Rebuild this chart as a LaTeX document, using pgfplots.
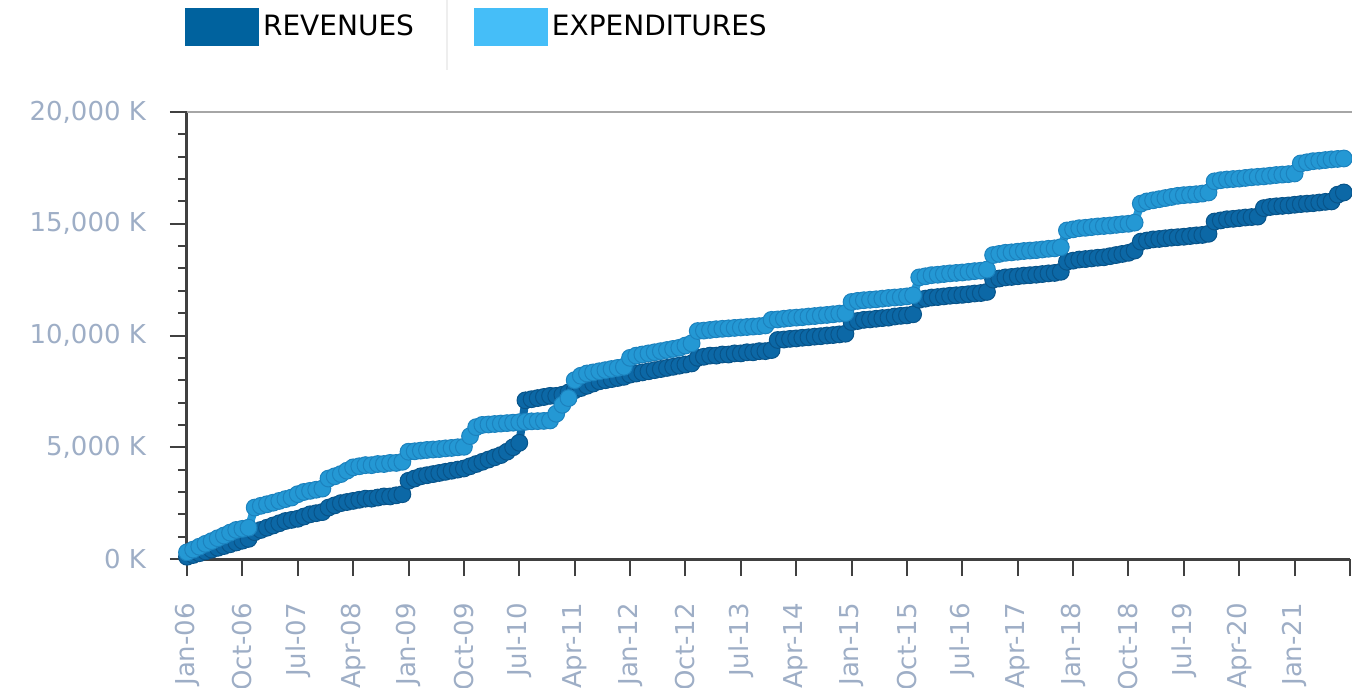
\documentclass[border=0pt]{standalone}
\usepackage{pgfplots}
\usepackage{pgfplotstable}
\pgfplotsset{compat=1.18}
\usepackage{fontspec}
\setmainfont{DejaVu Sans}
\definecolor{revcol}{RGB}{0,98,158}
\definecolor{expcol}{RGB}{69,190,248}
\definecolor{revline}{RGB}{12,104,166}
\definecolor{revedge}{RGB}{8,84,138}
\definecolor{expline}{RGB}{36,152,212}
\definecolor{expedge}{RGB}{28,130,190}
\definecolor{ticklab}{RGB}{158,174,198}
\definecolor{axdark}{RGB}{64,64,64}
\definecolor{topgray}{RGB}{166,166,166}
\definecolor{sepgray}{RGB}{238,238,238}
\pgfplotstableread{
m rev exp
0 100 300
1 180 420
2 260 550
3 340 680
4 420 800
5 500 930
6 580 1050
7 660 1180
8 740 1300
9 820 1350
10 900 1400
11 1200 2300
12 1300 2380
13 1400 2450
14 1500 2520
15 1600 2600
16 1700 2680
17 1750 2750
18 1800 2900
19 1900 3000
20 2000 3050
21 2050 3100
22 2100 3150
23 2300 3600
24 2400 3700
25 2500 3800
26 2550 3950
27 2600 4100
28 2650 4150
29 2700 4200
30 2700 4200
31 2750 4250
32 2800 4250
33 2800 4300
34 2850 4300
35 2900 4350
36 3500 4800
37 3600 4820
38 3700 4850
39 3750 4880
40 3800 4900
41 3850 4920
42 3900 4950
43 3950 4970
44 4000 5000
45 4050 5020
46 4150 5500
47 4250 5900
48 4350 6000
49 4450 6020
50 4550 6040
51 4650 6060
52 4800 6080
53 5000 6100
54 5200 6120
55 7100 6140
56 7150 6160
57 7200 6170
58 7250 6180
59 7300 6200
60 7300 6500
61 7350 6900
62 7450 7200
63 7550 8000
64 7650 8200
65 7750 8300
66 7850 8350
67 7950 8400
68 8000 8450
69 8050 8500
70 8100 8550
71 8150 8600
72 8250 9000
73 8300 9100
74 8350 9150
75 8400 9200
76 8450 9250
77 8500 9300
78 8550 9350
79 8600 9400
80 8650 9450
81 8700 9550
82 8750 9650
83 9000 10200
84 9050 10220
85 9100 10250
86 9100 10280
87 9150 10300
88 9150 10320
89 9200 10340
90 9200 10360
91 9250 10380
92 9250 10400
93 9300 10420
94 9300 10450
95 9350 10700
96 9800 10720
97 9820 10750
98 9850 10780
99 9870 10800
100 9900 10820
101 9920 10850
102 9950 10870
103 9970 10900
104 10000 10920
105 10020 10950
106 10050 10980
107 10080 11000
108 10600 11500
109 10650 11550
110 10700 11580
111 10720 11600
112 10750 11620
113 10780 11650
114 10800 11680
115 10850 11700
116 10880 11720
117 10900 11750
118 10950 11800
119 11600 12600
120 11650 12650
121 11700 12700
122 11720 12720
123 11750 12750
124 11780 12780
125 11800 12800
126 11820 12820
127 11850 12850
128 11880 12880
129 11900 12900
130 11950 12950
131 12500 13600
132 12550 13650
133 12600 13700
134 12620 13720
135 12650 13750
136 12680 13780
137 12700 13800
138 12720 13820
139 12750 13850
140 12780 13880
141 12800 13900
142 12850 13950
143 13300 14700
144 13350 14750
145 13400 14800
146 13420 14820
147 13450 14850
148 13480 14880
149 13500 14900
150 13550 14920
151 13600 14950
152 13650 14980
153 13700 15000
154 13800 15050
155 14200 15900
156 14250 16000
157 14300 16050
158 14320 16100
159 14350 16150
160 14380 16200
161 14400 16250
162 14420 16280
163 14450 16300
164 14480 16320
165 14500 16350
166 14550 16400
167 15100 16900
168 15150 16950
169 15200 16980
170 15220 17000
171 15250 17020
172 15280 17050
173 15300 17080
174 15320 17100
175 15700 17120
176 15750 17150
177 15780 17180
178 15800 17200
179 15820 17220
180 15850 17250
181 15880 17700
182 15900 17750
183 15920 17800
184 15950 17820
185 15980 17850
186 16000 17880
187 16300 17900
188 16400 17920
}\datatable
\begin{document}
\begin{tikzpicture}
\begin{axis}[
  at={(0,0)}, anchor=south west,
  scale only axis,
  width=581.5pt, height=223.5pt,
  xmin=0, xmax=189, ymin=0, ymax=20000,
  scaled y ticks=false,
  axis x line*=bottom, axis y line*=left,
  axis line style={axdark, line width=1.5pt},
  x axis line style={-}, y axis line style={-},
  xtick={0,9,...,189},
  xticklabels={Jan-06,Oct-06,Jul-07,Apr-08,Jan-09,Oct-09,Jul-10,Apr-11,Jan-12,Oct-12,Jul-13,Apr-14,Jan-15,Oct-15,Jul-16,Apr-17,Jan-18,Oct-18,Jul-19,Apr-20,Jan-21,{}},
  extra x ticks={189}, extra x tick labels={},
  ytick={0,5000,10000,15000,20000},
  yticklabels={0 K,{5,000 K},{10,000 K},{15,000 K},{20,000 K}},
  minor y tick num=4,
  tick align=outside,
  major tick length=8.5pt, minor tick length=4.5pt,
  every tick/.style={axdark, line width=1pt},
  tick label style={ticklab, font=\fontsize{13}{15}\selectfont},
  xticklabel style={rotate=90, anchor=east, xshift=-10pt},
  yticklabel style={anchor=east, xshift=-8.5pt},
  clip=false,
  legend style={at={(axis description cs:-0.002,1.19)}, anchor=west, draw=none, fill=none,
    legend columns=2, font=\fontsize{14}{16}\selectfont,
    /tikz/every even column/.append style={column sep=28pt},
    cells={anchor=west}, inner sep=0pt},
]
\addplot[revline, line width=4pt, mark=*, mark size=4.2pt,
  mark options={fill=revline, draw=revedge, line width=0.5pt},
  legend image code/.code={\fill[revcol] (0pt,-7.5pt) rectangle (33pt,7.5pt);}]
  table[x=m, y=rev]{\datatable};
\addlegendentry{REVENUES}
\addplot[expline, line width=4pt, mark=*, mark size=4.2pt,
  mark options={fill=expline, draw=expedge, line width=0.5pt},
  legend image code/.code={\fill[expcol] (0pt,-7.5pt) rectangle (33pt,7.5pt);}]
  table[x=m, y=exp]{\datatable};
\addlegendentry{EXPENDITURES}
\draw[topgray, line width=1pt] (rel axis cs:0,1) -- (rel axis cs:1.01,1);
\draw[sepgray, line width=1pt] (axis description cs:0.2236,1.094) -- (axis description cs:0.2236,1.25);
\end{axis}
\pgfresetboundingbox
\useasboundingbox (-93.5pt,-64pt) rectangle (582.5pt,279.5pt);
\end{tikzpicture}
\end{document}
